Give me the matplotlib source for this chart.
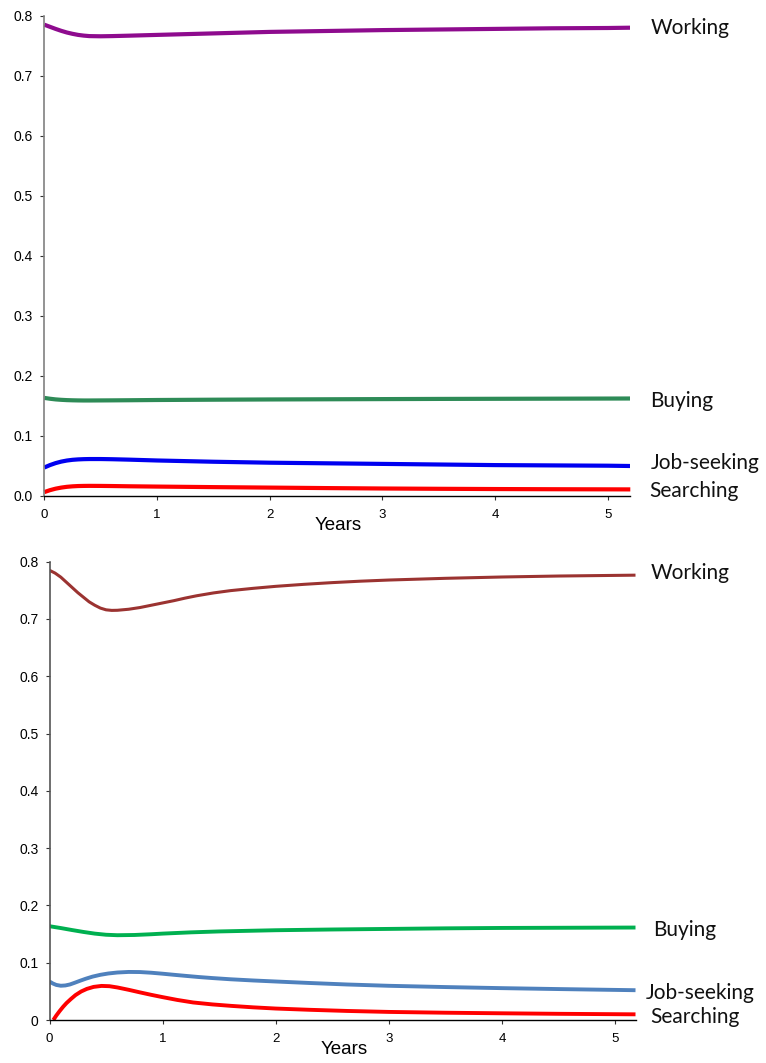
import matplotlib
matplotlib.use("Agg")
import matplotlib.pyplot as plt

W, H = 766, 1063

# ---------------- data: top panel ----------------
top_x = [0, 0.05, 0.1, 0.15, 0.2, 0.25, 0.3, 0.35, 0.4, 0.5, 0.6, 0.75, 1, 1.5, 2, 2.5, 3,
         3.5, 4, 4.5, 5, 5.2]
top_working = [0.785, 0.7815, 0.7780, 0.7748, 0.7720, 0.7698, 0.7680, 0.7668, 0.7660, 0.7657,
               0.7660, 0.7667, 0.768, 0.7705, 0.773, 0.7745, 0.776, 0.777, 0.778, 0.779,
               0.7795, 0.780]
top_buying = [0.163, 0.1616, 0.1605, 0.1598, 0.1593, 0.1590, 0.1588, 0.1587, 0.1587, 0.1588,
              0.1589, 0.1591, 0.1595, 0.1600, 0.1604, 0.1607, 0.1610, 0.1613, 0.1615,
              0.1617, 0.1619, 0.1620]
top_jobseeking = [0.047, 0.0510, 0.0543, 0.0568, 0.0586, 0.0598, 0.0605, 0.0609, 0.0611,
                  0.0611, 0.0608, 0.0601, 0.0587, 0.0566, 0.055, 0.054, 0.053, 0.052, 0.051,
                  0.0505, 0.050, 0.0495]
top_searching = [0.006, 0.0092, 0.0117, 0.0135, 0.0148, 0.0156, 0.0161, 0.0163, 0.0164,
                 0.0163, 0.0161, 0.0157, 0.0152, 0.0143, 0.0135, 0.0127, 0.0120, 0.0115,
                 0.0111, 0.0108, 0.0106, 0.0105]

# ---------------- data: bottom panel ----------------
bot_working_x = [0, 0.05, 0.1, 0.15, 0.2, 0.25, 0.3, 0.35, 0.4, 0.45, 0.5, 0.55, 0.6, 0.7,
                 0.8, 0.9, 1.0, 1.1, 1.2, 1.3, 1.45, 1.6, 1.8, 2.0, 2.25, 2.5, 2.75, 3.0,
                 3.5, 4.0, 4.5, 5.18]
bot_working = [0.785, 0.780, 0.773, 0.764, 0.755, 0.746, 0.738, 0.730, 0.724, 0.719, 0.716,
               0.7150, 0.7152, 0.717, 0.720, 0.724, 0.728, 0.732, 0.7365, 0.7405, 0.7455,
               0.7495, 0.7535, 0.757, 0.7605, 0.7635, 0.766, 0.768, 0.771, 0.7733, 0.775,
               0.7765]
bot_buying_x = [0, 0.1, 0.2, 0.3, 0.4, 0.5, 0.6, 0.75, 0.9, 1.0, 1.25, 1.5, 2, 2.5, 3, 3.5,
                4, 4.5, 5.18]
bot_buying = [0.1637, 0.1605, 0.1570, 0.1537, 0.1508, 0.1488, 0.1480, 0.1484, 0.1497, 0.1508,
              0.1530, 0.1546, 0.1567, 0.158, 0.159, 0.160, 0.1607, 0.161, 0.1614]
bot_jobseeking_x = [0, 0.03, 0.06, 0.1, 0.14, 0.18, 0.22, 0.27, 0.32, 0.38, 0.45, 0.52, 0.6,
                    0.7, 0.8, 0.9, 1.0, 1.1, 1.2, 1.32, 1.44, 1.6, 1.8, 2.0, 2.3, 2.63, 3,
                    3.5, 4, 4.5, 5.18]
bot_jobseeking = [0.0672, 0.0637, 0.0612, 0.0598, 0.0603, 0.0620, 0.0648, 0.0685, 0.0720,
                  0.0757, 0.0789, 0.0812, 0.0829, 0.0839, 0.0837, 0.0825, 0.0808, 0.0789,
                  0.0771, 0.0750, 0.0732, 0.0711, 0.0690, 0.0672, 0.0646, 0.0620, 0.0597,
                  0.0575, 0.0556, 0.0540, 0.0520]
bot_searching_x = [0.034, 0.06, 0.09, 0.12, 0.15, 0.19, 0.23, 0.28, 0.33, 0.39, 0.46, 0.53,
                   0.6, 0.7, 0.8, 0.9, 1.0, 1.13, 1.27, 1.44, 1.61, 1.8, 2.0, 2.3, 2.63, 3.0,
                   3.5, 4, 4.5, 5.18]
bot_searching = [0.0, 0.0078, 0.0157, 0.0230, 0.0295, 0.0368, 0.0435, 0.0498, 0.0543, 0.0578,
                 0.0595, 0.0590, 0.0568, 0.0527, 0.0482, 0.0439, 0.0399, 0.0350, 0.0306,
                 0.0272, 0.0246, 0.0221, 0.0200, 0.0178, 0.0158, 0.0141, 0.0127, 0.0117,
                 0.0108, 0.0099]

x_ticks = [0, 1, 2, 3, 4, 5]
y_ticks = [0, 0.1, 0.2, 0.3, 0.4, 0.5, 0.6, 0.7, 0.8]
top_ytick_labels = ["0.0", "0.1", "0.2", "0.3", "0.4", "0.5", "0.6", "0.7", "0.8"]
bot_ytick_labels = ["0", "0.1", "0.2", "0.3", "0.4", "0.5", "0.6", "0.7", "0.8"]
series_names = ["Working", "Buying", "Job-seeking", "Searching"]

fig = plt.figure(figsize=(W / 100, H / 100), dpi=100)


def px_axes(left, right, top, bottom):
    return fig.add_axes([left / W, 1 - bottom / H, (right - left) / W, (bottom - top) / H])


def style(ax, xmax, ylabels, yspine_color, ypad):
    ax.set_xlim(0, xmax)
    ax.set_ylim(0, 0.8)
    ax.spines["top"].set_visible(False)
    ax.spines["right"].set_visible(False)
    ax.spines["left"].set_color(yspine_color)
    ax.spines["left"].set_linewidth(1.2)
    ax.spines["bottom"].set_color("black")
    ax.spines["bottom"].set_linewidth(1.0)
    ax.set_xticks(x_ticks)
    ax.set_xticklabels([str(t) for t in x_ticks])
    ax.set_yticks(y_ticks)
    ax.set_yticklabels(ylabels)
    ax.tick_params(axis="x", direction="out", length=3, width=0.8, pad=6.5,
                   labelsize=9.5, colors="black", color="#333333")
    ax.tick_params(axis="y", direction="out", length=3, width=0.8, pad=ypad,
                   labelsize=10, colors="black", color="#333333")
    for lab in ax.get_xticklabels() + ax.get_yticklabels():
        lab.set_fontfamily("Liberation Sans")


# ---------------- top panel ----------------
ax1 = px_axes(44.3, 630.3, 15.7, 495.7)
ax1.plot(top_x, top_working, color="#8E0B8E", lw=3.0, solid_capstyle="butt")
ax1.plot(top_x, top_buying, color="#2E8B57", lw=3.0, solid_capstyle="butt")
ax1.plot(top_x, top_jobseeking, color="#0000F0", lw=3.0, solid_capstyle="butt")
ax1.plot(top_x, top_searching, color="#FF0000", lw=3.0, solid_capstyle="butt", clip_on=False)
style(ax1, 5.2, top_ytick_labels, "#808080", 5.5)

# ---------------- bottom panel ----------------
ax2 = px_axes(49.5, 635.5, 561.7, 1020)
ax2.plot(bot_working_x, bot_working, color="#9B3331", lw=2.2, solid_capstyle="butt")
ax2.plot(bot_buying_x, bot_buying, color="#00B050", lw=2.8, solid_capstyle="butt")
ax2.plot(bot_jobseeking_x, bot_jobseeking, color="#4F81BD", lw=2.8, solid_capstyle="butt")
ax2.plot(bot_searching_x, bot_searching, color="#FF0000", lw=2.8, solid_capstyle="butt")
style(ax2, 5.18, bot_ytick_labels, "#555555", 5.0)

# axis titles
fig.text(338 / W, 1 - 525 / H, "Years", ha="center", va="center", fontsize=13.5,
         family="Liberation Sans")
fig.text(344 / W, 1 - 1049 / H, "Years", ha="center", va="center", fontsize=13.5,
         family="Liberation Sans")

# series labels (left x, baseline y in pixels)
top_label_pos = [(650.7, 34.3), (650.0, 407.3), (650.7, 469.3), (649.3, 496.7)]
bot_label_pos = [(650.7, 579.3), (653.3, 936.0), (646.0, 998.7), (650.7, 1023.3)]
for name, (x, y) in zip(series_names, top_label_pos):
    fig.text(x / W, 1 - y / H, name, ha="left", va="baseline", fontsize=15,
             family="Lato", color="#111111")
for name, (x, y) in zip(series_names, bot_label_pos):
    fig.text(x / W, 1 - y / H, name, ha="left", va="baseline", fontsize=15,
             family="Lato", color="#111111")

fig.savefig("out.png", dpi=100)
